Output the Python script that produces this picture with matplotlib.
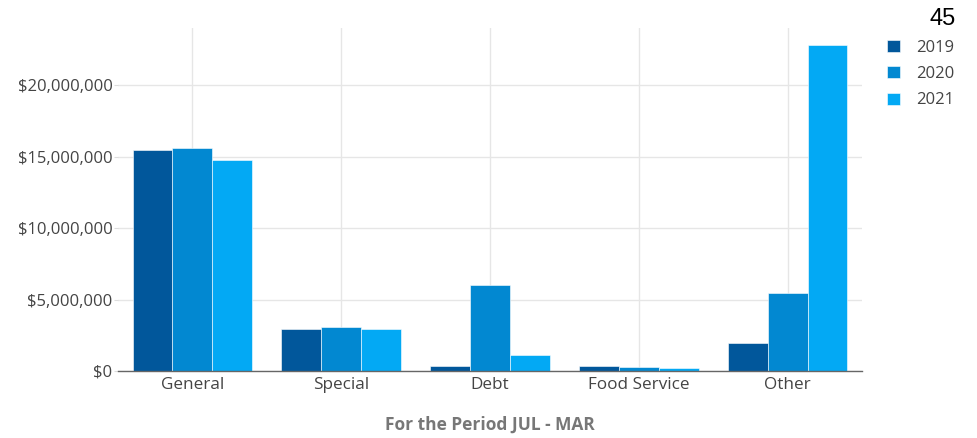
import numpy as np
import matplotlib.pyplot as plt
from matplotlib.ticker import FuncFormatter

# Data
categories = ['General', 'Special', 'Debt', 'Food Service', 'Other']
years = ['2019', '2020', '2021']
v2019 = [15450000, 2960000, 330000, 330000, 1960000]
v2020 = [15600000, 3050000, 6000000, 280000, 5470000]
v2021 = [14750000, 2910000, 1100000, 190000, 22800000]
colors = ['#01579B', '#0288D1', '#03A9F4']

plt.rcParams['font.family'] = ['Open Sans', 'DejaVu Sans']

fig = plt.figure(figsize=(9.77, 4.38), dpi=100)
ax = fig.add_axes([118 / 977, 67 / 438, 744 / 977, 343 / 438])

x = np.arange(len(categories))
w = 0.268
for i, (vals, lab) in enumerate(zip([v2019, v2020, v2021], years)):
    ax.bar(x + (i - 1) * w, vals, width=w, color=colors[i], label=lab,
           edgecolor='#ffffff', linewidth=0.4, zorder=3)

ax.set_xlim(-0.5, 4.5)
ax.set_ylim(0, 24000000)
ax.set_xticks(x)
ax.set_xticklabels(categories)
ax.set_yticks([0, 5000000, 10000000, 15000000, 20000000])
ax.yaxis.set_major_formatter(FuncFormatter(lambda v, p: '${:,.0f}'.format(v)))

ax.grid(True, color='#e6e6e6', linewidth=1, zorder=0)
for s in ['top', 'right', 'left']:
    ax.spines[s].set_visible(False)
ax.spines['bottom'].set_color('#666666')
ax.spines['bottom'].set_linewidth(1)
ax.spines['bottom'].set_zorder(4)

ax.tick_params(axis='y', length=3, color='#dddddd', labelsize=12, labelcolor='#444444', pad=1)
ax.tick_params(axis='x', length=0, labelsize=12.3, labelcolor='#444444', pad=4.5)

ax.set_xlabel('For the Period JUL - MAR', fontsize=12.5, fontweight='bold',
              color='#777777', labelpad=16)

ax.legend(loc='upper left', bbox_to_anchor=(1.025, 0.985), frameon=False,
          fontsize=12, labelcolor='#444444', handlelength=0.75, handleheight=0.75,
          handletextpad=1.0, labelspacing=0.62, borderaxespad=0)

fig.text(930 / 977, 1 - 19 / 438, '45', fontsize=17, color='black',
         family='Liberation Sans', ha='left', va='center')

fig.savefig('out.png', dpi=100)
